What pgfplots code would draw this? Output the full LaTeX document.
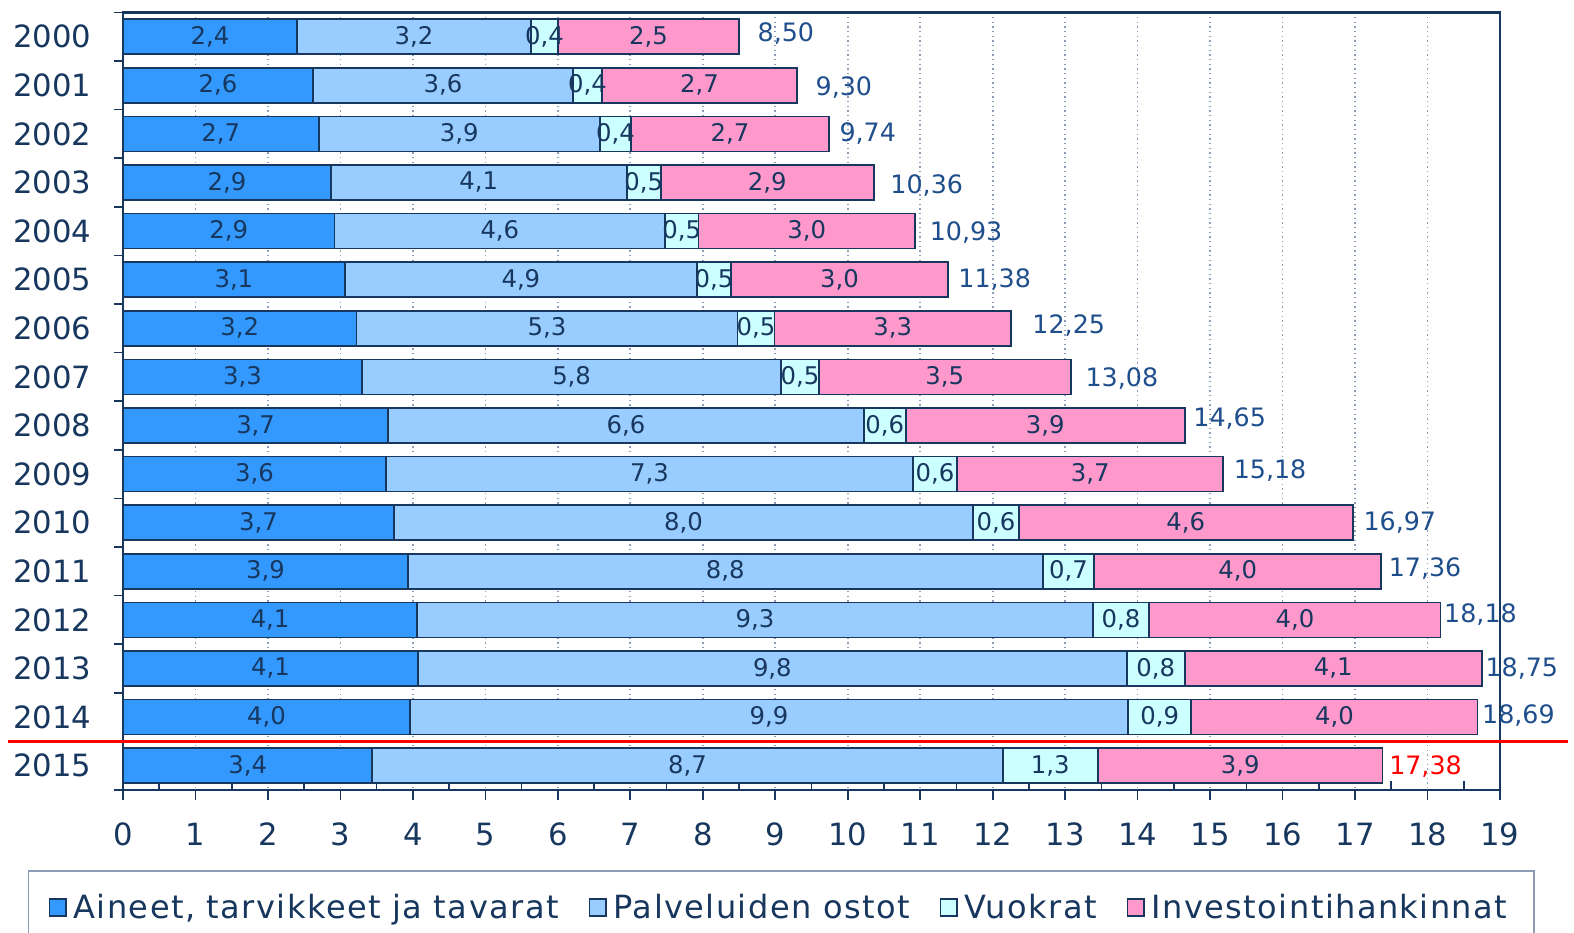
\documentclass[border=0pt]{standalone}
\usepackage{fontspec}
\setmainfont{DejaVu Sans}
\newfontfamily\legfont[LetterSpace=4.5]{DejaVu Sans}
\usepackage{pgfplots}
\usepackage{pgfplotstable}
\pgfplotsset{compat=1.18}
\definecolor{navy}{HTML}{17375E}
\definecolor{totblue}{HTML}{1F4E8C}
\definecolor{c1}{HTML}{3399FF}
\definecolor{c2}{HTML}{99CCFF}
\definecolor{c3}{HTML}{CCFFFF}
\definecolor{c4}{HTML}{FF99CC}
\definecolor{gridc}{HTML}{8C9CB8}

\pgfplotstableread{
y a b c d la lb lc ld tot tl dx dy
0 2.40 3.23 0.37 2.50 2,4 3,2 0,4 2,5 8.50 8,50 18 -3
1 2.62 3.59 0.40 2.69 2,6 3,6 0,4 2,7 9.30 9,30 18 2
2 2.70 3.88 0.43 2.73 2,7 3,9 0,4 2,7 9.74 9,74 10 0
3 2.87 4.08 0.47 2.94 2,9 4,1 0,5 2,9 10.36 10,36 16 3
4 2.92 4.56 0.46 2.99 2,9 4,6 0,5 3,0 10.93 10,93 14 1
5 3.06 4.86 0.47 2.99 3,1 4,9 0,5 3,0 11.38 11,38 10 0
6 3.22 5.26 0.51 3.26 3,2 5,3 0,5 3,3 12.25 12,25 21 -3
7 3.30 5.78 0.52 3.48 3,3 5,8 0,5 3,5 13.08 13,08 14 2
8 3.66 6.56 0.58 3.85 3,7 6,6 0,6 3,9 14.65 14,65 8 -7
9 3.63 7.27 0.61 3.67 3,6 7,3 0,6 3,7 15.18 15,18 10 -4
10 3.74 7.99 0.63 4.61 3,7 8,0 0,6 4,6 16.97 16,97 10 0
11 3.93 8.76 0.71 3.96 3,9 8,8 0,7 4,0 17.36 17,36 7 -3
12 4.06 9.32 0.78 4.02 4,1 9,3 0,8 4,0 18.18 18,18 3 -5
13 4.07 9.78 0.80 4.10 4,1 9,8 0,8 4,1 18.75 18,75 3 0
14 3.96 9.91 0.87 3.95 4,0 9,9 0,9 4,0 18.69 18,69 4 -2
15 3.44 8.70 1.31 3.93 3,4 8,7 1,3 3,9 17.38 {\color{red}17,38} 6 1
}\data

\pgfplotsset{common/.style={
  at={(0,0)}, anchor=south west,
  x=21.742pt, y=14.58pt,
  xmin=0, xmax=19, ymin=-0.5, ymax=15.5,
  y dir=reverse, clip=false}}

\begin{document}
\begin{tikzpicture}
\useasboundingbox (-36.9pt,-42.9pt) rectangle (435.3pt,237pt);
\begin{axis}[
  common,
  xbar stacked, bar width=0.72,
  xtick={0,...,19},
  minor x tick num=1,
  xtick pos=bottom, ytick pos=left,
  ytick={0,...,15},
  yticklabels={2000,2001,2002,2003,2004,2005,2006,2007,2008,2009,2010,2011,2012,2013,2014,2015},
  minor ytick={-0.5,0.5,...,15.5},
  tick align=outside,
  major tick length=3pt, minor tick length=2.7pt,
  major y tick style={draw=none},
  minor x tick style={yshift=2.7pt},
  xmajorgrids,
  major x grid style={gridc, densely dotted, line width=0.5pt},
  axis line style={navy, line width=0.8pt},
  tick style={navy, line width=0.5pt},
  ticklabel style={font=\fontsize{9.2}{11}\selectfont, text=navy},
  xticklabel style={yshift=-3.3pt},
  yticklabel style={xshift=-3pt},
  /pgf/number format/assume math mode=true,
  every node near coord/.append style={font=\fontsize{7.3}{8}\selectfont, text=navy},
  nodes near coords, point meta=explicit symbolic,
  legend style={at={(0.478,-0.103)}, anchor=north, legend columns=4,
    draw=gridc, line width=0.5pt, font=\legfont\fontsize{9.6}{11}\selectfont, text=navy,
    inner xsep=6pt, inner ysep=5pt,
    nodes={text depth=6pt},
    /tikz/every even column/.append style={column sep=7pt}},
  legend image code/.code={\draw[#1,draw=navy,line width=0.5pt] (0pt,0.2pt) rectangle (5pt,5.2pt);},
]
\addplot[fill=c1, draw=navy, line width=0.5pt] table[x=a, y=y, meta=la]{\data};
\addplot[fill=c2, draw=navy, line width=0.5pt] table[x=b, y=y, meta=lb]{\data};
\addplot[fill=c3, draw=navy, line width=0.5pt] table[x=c, y=y, meta=lc]{\data};
\addplot[fill=c4, draw=navy, line width=0.5pt] table[x=d, y=y, meta=ld]{\data};
\legend{{Aineet, tarvikkeet ja tavarat}, {Palveluiden ostot}, {Vuokrat}, {Investointihankinnat}}
\draw[red, line width=1pt] ([xshift=-34.5pt]axis cs:0,14.5) -- ([xshift=20.4pt]axis cs:19,14.5);
\end{axis}
\begin{axis}[common, hide axis]
\addplot[draw=none, mark=none, nodes near coords, point meta=explicit symbolic,
  visualization depends on={\thisrow{dx} \as \ddx},
  visualization depends on={\thisrow{dy} \as \ddy},
  every node near coord/.append style={anchor=west, inner xsep=0pt, xshift=\ddx*0.3pt, yshift=-\ddy*0.3pt, text=totblue, font=\fontsize{7.6}{9}\selectfont}]
  table[x=tot, y=y, meta=tl]{\data};
\end{axis}
\end{tikzpicture}
\end{document}
